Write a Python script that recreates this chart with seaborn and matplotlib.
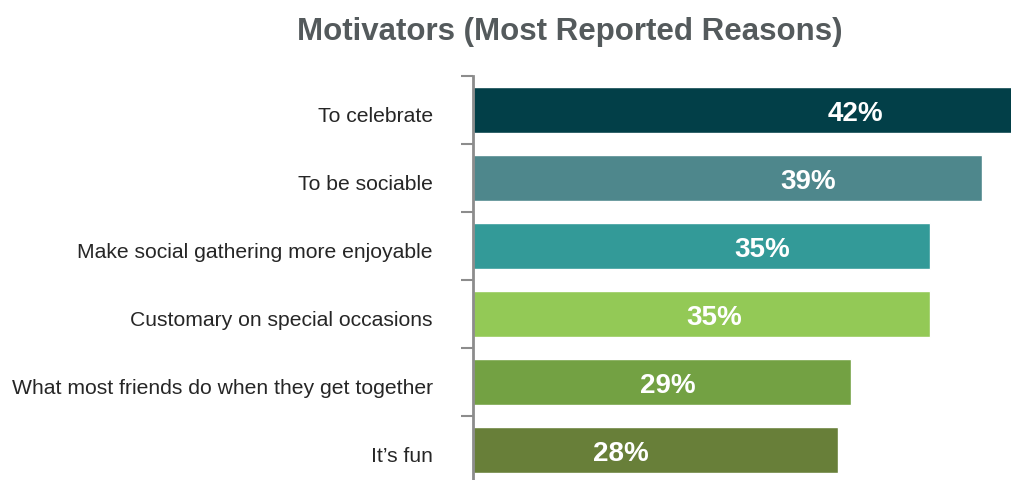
import matplotlib
matplotlib.use("Agg")
import matplotlib.pyplot as plt
import matplotlib.transforms as mtransforms
import seaborn as sns
import pandas as pd
import numpy as np

# Survey results: most reported motivators
reasons = [
    "To celebrate",
    "To be sociable",
    "Make social gathering more enjoyable",
    "Customary on special occasions",
    "What most friends do when they get together",
    "It\u2019s fun",
]
shares = [42, 39, 35, 35, 29, 28]
label_x = [29.3, 25.7, 22.2, 18.5, 14.9, 11.3]  # where each value label sits along the bar
bar_colors = ["#023f48", "#4e878c", "#339a98", "#93c956", "#73a143", "#687f39"]

sns.set_theme(style="white")
plt.rcParams["font.family"] = ["Liberation Sans", "DejaVu Sans"]

df = pd.DataFrame({"reason": reasons, "share": shares})

fig = plt.figure(figsize=(10.11, 4.81), dpi=100)
ax = fig.add_axes([473 / 1011, -4 / 481, 538 / 1011, 408 / 481])

sns.barplot(data=df, x="share", y="reason", hue="reason", palette=bar_colors,
            legend=False, width=0.67, saturation=1, ax=ax)

ax.set_xlim(0, 538 / 13.05)
ax.set_ylim(len(reasons) - 0.5, -0.5)

for i, (v, lx) in enumerate(zip(shares, label_x)):
    ax.text(lx, i + 0.05, f"{v}%", ha="center", va="center", color="white",
            fontsize=20, fontweight="bold")

# Axis styling: only a grey left spine with ticks between categories
for side in ["top", "right", "bottom"]:
    ax.spines[side].set_visible(False)
ax.spines["left"].set_color("#8c8c8c")
ax.spines["left"].set_linewidth(2.0)
ax.set_xticks([])
ax.set_xlabel("")
ax.set_ylabel("")
ax.set_yticks(range(len(reasons)))
ax.set_yticklabels(reasons, fontsize=15.2, color="#262626")
ax.set_yticks(np.arange(-0.5, len(reasons) + 0.5, 1), minor=True)
ax.tick_params(axis="y", which="major", length=0, pad=29)
ax.tick_params(axis="y", which="minor", left=True, length=8.6, width=1.5, color="#8c8c8c")

# nudge category labels slightly downward
shift = mtransforms.ScaledTranslation(0, -4 / 100, fig.dpi_scale_trans)
for lab in ax.get_yticklabels():
    lab.set_transform(lab.get_transform() + shift)

fig.text(570 / 1011, 1 - 32 / 481, "Motivators (Most Reported Reasons)",
         ha="center", va="center", fontsize=22.5, fontweight="bold", color="#545a5c")

fig.savefig("out.png", dpi=100)
